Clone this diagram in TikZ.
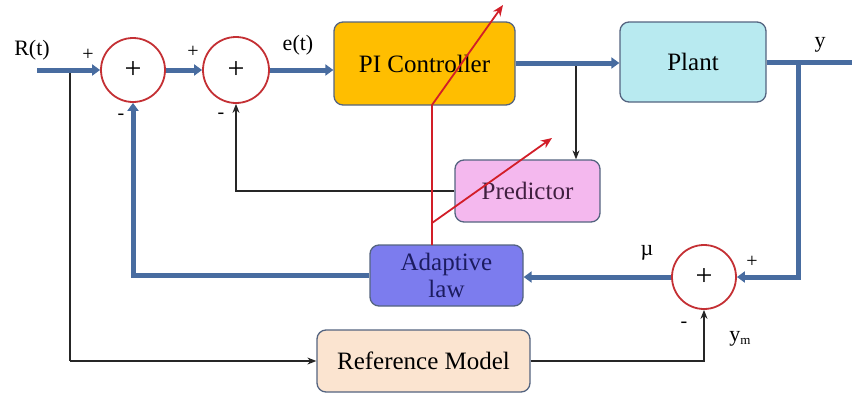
\documentclass[tikz,border=0pt]{standalone}
\usepackage{fontspec}
\setmainfont{Liberation Serif}
\usetikzlibrary{arrows.meta}

\definecolor{busblue}{RGB}{72,108,160}
\definecolor{boxedge}{RGB}{84,100,128}
\definecolor{sumred}{RGB}{196,48,52}
\definecolor{tunered}{RGB}{210,30,40}
\definecolor{pifill}{RGB}{255,190,0}
\definecolor{plantfill}{RGB}{184,234,240}
\definecolor{predfill}{RGB}{244,184,238}
\definecolor{adaptfill}{RGB}{124,124,238}
\definecolor{reffill}{RGB}{251,228,208}
\definecolor{adapttext}{RGB}{28,28,96}
\definecolor{predtext}{RGB}{64,32,64}

\tikzset{
  x=1pt, y=-1pt,
  blockbox/.style={draw=boxedge, line width=1.3pt, rounded corners=9pt,
    inner sep=0pt, align=center, font=\fontsize{25}{27}\selectfont},
  sumnode/.style={circle, draw=sumred, line width=1.8pt, fill=white,
    minimum size=64pt, inner sep=0pt, font=\fontsize{30}{30}\selectfont},
  bus/.style={draw=busblue, line width=5pt, -{Triangle[length=8pt,width=11pt]}},
  busline/.style={draw=busblue, line width=5pt},
  sig/.style={draw=black!85, line width=1.2pt, -{Stealth[length=9pt,width=7pt]}},
  sigline/.style={draw=black!85, line width=1.2pt},
  tune/.style={draw=tunered, line width=1.8pt, -{Stealth[length=11pt,width=9pt]}},
  lbl/.style={inner sep=0pt, font=\fontsize{22}{22}\selectfont},
  sgn/.style={inner sep=0pt, font=\fontsize{20}{20}\selectfont},
}

\begin{document}
\begin{tikzpicture}
\useasboundingbox (0,0) rectangle (852,394);

% blocks
\node[blockbox, fill=pifill, minimum width=181pt, minimum height=83pt] (pi) at (424.5,63.5) {PI Controller};
\node[blockbox, fill=plantfill, minimum width=146pt, minimum height=80pt] (plant) at (693,62) {Plant};
\node[blockbox, fill=predfill, text=predtext, minimum width=145pt, minimum height=62pt] (pred) at (527.5,191) {Predictor};
\node[blockbox, fill=adaptfill, text=adapttext, minimum width=153pt, minimum height=61pt,
  font=\fontsize{25}{27}\selectfont] (adapt) at (446.5,275.5) {Adaptive\\law};
\node[blockbox, fill=reffill, minimum width=213pt, minimum height=62pt] (ref) at (423.5,361) {Reference Model};

% summing junctions
\node[sumnode] (s1) at (133,70) {+};
\node[sumnode, minimum size=66pt] (s2) at (236,70) {+};
\node[sumnode] (s3) at (704,277) {+};

% free ends and branch points
\coordinate (rin) at (37,70);
\coordinate (rb) at (70,70);
\coordinate (yout) at (852,62);
\coordinate (yb) at (798,62);
\coordinate (ub) at (576,63);
\coordinate (tunebase) at (432,245);
\coordinate (tunebend) at (432,105);
\coordinate (tunepi) at (503,5);
\coordinate (tunefork) at (432,223);
\coordinate (tunepred) at (552,138);

% thin signal paths
\draw[sigline] (rb) -- (rb |- ref.west);
\draw[sig] (rb |- ref.west) -- (ref.west);
\draw[sig] (ref.east) -| (s3.south);
\draw[sig] (pred.west) -| (s2.south);
\draw[sig] (ub) -- (ub |- pred.north);

% main signal paths
\draw[bus] (rin) -- (s1.west);
\draw[bus] (s1.east) -- (s2.west);
\draw[bus] (s2.east) -- (s2.east -| pi.west);
\draw[bus] (pi.east |- ub) -- (ub -| plant.west);
\draw[busline] (plant.east |- yout) -- (yout);
\draw[bus] (yb) |- (s3.east);
\draw[bus] (s3.west) -- (s3.west -| adapt.east);
\draw[bus] (adapt.west) -| (s1.south);

% adaptation paths
\draw[tune] (tunebase) -- (tunebend) -- (tunepi);
\draw[tune] (tunefork) -- (tunepred);

% labels
\node[lbl] (lr) at (32,50) {R(t)};
\node[sgn] (p1) at (88,55) {+};
\node[sgn] (p2) at (193,52) {+};
\node[sgn] (m1) at (121,117) {-};
\node[sgn] (m2) at (221,116) {-};
\node[lbl] (le) at (298,45) {e(t)};
\node[lbl] (ly) at (820,45) {y};
\node[lbl] (lmu) at (647,253) {µ};
\node[sgn] (p3) at (752,262) {+};
\node[sgn] (m3) at (684,325) {-};
\node[lbl] (lym) at (740,339) {y\raisebox{-3pt}{\fontsize{13}{13}\selectfont m}};
\end{tikzpicture}
\end{document}
